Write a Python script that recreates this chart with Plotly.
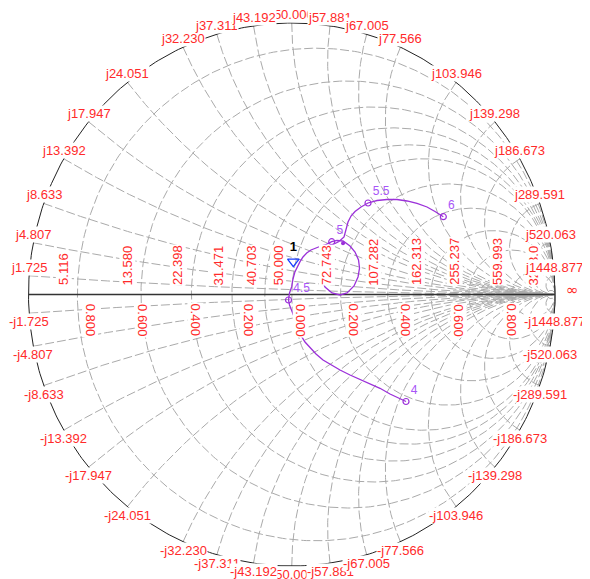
import numpy as np
import plotly.graph_objects as go

Z0 = 50.0
# Grid values (ohms)
reactance_vals = [1.725, 4.807, 8.633, 13.392, 17.947, 24.051, 32.230, 37.311, 43.192,
                  50.000, 57.881, 67.005, 77.566, 103.946, 139.298, 186.673, 289.591,
                  520.063, 1448.877]
resistance_vals = [5.116, 13.580, 22.398, 31.471, 40.703, 50.000, 72.743, 107.282,
                   162.313, 255.237, 559.993, 3233.0]
resistance_text = ["5.116", "13.580", "22.398", "31.471", "40.703", "50.000", "72.743",
                   "107.282", "162.313", "255.237", "559.993", "3233.0"]
gamma_marks = [-0.8, -0.6, -0.4, -0.2, 0.0, 0.2, 0.4, 0.6, 0.8]

# Measured reflection coefficient trace (real, imag)
trace_re = [0.4340, 0.3732, 0.3352, 0.2973, 0.2593, 0.2213, 0.1833, 0.1491, 0.1187, 0.0921,
            0.0693, 0.0503, 0.0378, 0.0256, 0.0188, 0.0085, -0.0002, -0.0085, -0.0123, -0.0085,
            -0.0002, 0.0047, 0.0123, 0.0218, 0.0313, 0.0427, 0.0568, 0.0731, 0.0948, 0.1111,
            0.1263, 0.1518, 0.1719, 0.1947, 0.2213, 0.2403, 0.2536, 0.2574, 0.2517, 0.2365,
            0.2099, 0.1833, 0.1529, 0.1263, 0.1111, 0.1073, 0.1149, 0.1301, 0.1529, 0.1795,
            0.1985, 0.2061, 0.2137, 0.2251, 0.2403, 0.2631, 0.2897, 0.3238, 0.3618, 0.3998,
            0.4378, 0.4758, 0.5138, 0.5442, 0.5757]
trace_im = [-0.3941, -0.3665, -0.3455, -0.3296, -0.3149, -0.2965, -0.2781, -0.2597, -0.2412, -0.2192,
            -0.1971, -0.1750, -0.1554, -0.1308, -0.1061, -0.0792, -0.0571, -0.0387, -0.0203, 0.0055,
            0.0287, 0.0571, 0.0840, 0.1050, 0.1208, 0.1381, 0.1529, 0.1639, 0.1738, 0.1786,
            0.1823, 0.1945, 0.1989, 0.1971, 0.1786, 0.1565, 0.1271, 0.0976, 0.0645, 0.0313,
            0.0055, -0.0018, 0.0055, 0.0276, 0.0608, 0.0976, 0.1344, 0.1639, 0.1823, 0.1952,
            0.2118, 0.2376, 0.2670, 0.2891, 0.3057, 0.3223, 0.3370, 0.3462, 0.3499, 0.3499,
            0.3444, 0.3352, 0.3223, 0.3057, 0.2866]
marker_freq = ["4", "4.5", "5", "5.5", "6"]
marker_re = [0.4340, -0.0123, 0.1518, 0.2897, 0.5757]
marker_im = [-0.3941, -0.0203, 0.1945, 0.3370, 0.2866]
cusp_re = [0.1947]
cusp_im = [0.1890]
marker1_re = [0.0059]
marker1_im = [0.1208]

GRID = "#aaaaaa"
RED = "#ff2a2a"
PURPLE = "#9b30d9"
FONT = "Liberation Sans, Arial, sans-serif"

fig = go.Figure()

# resistance circles
rx, ry = [], []
t = np.linspace(0, 2 * np.pi, 500)
for R in resistance_vals:
    r = R / Z0
    c = r / (1 + r)
    rad = 1 / (1 + r)
    rx += list(c + rad * np.cos(t)) + [None]
    ry += list(rad * np.sin(t)) + [None]
fig.add_trace(go.Scatter(x=rx, y=ry, mode="lines", hoverinfo="skip",
                         line=dict(color=GRID, width=1, dash="9px,3px")))

# reactance arcs
xx, xy = [], []
rs = np.concatenate([[0.0], np.logspace(-3, 4, 400)])
for X in reactance_vals:
    for s in (1, -1):
        z = rs + 1j * s * X / Z0
        g = (z - 1) / (z + 1)
        xx += list(g.real) + [None]
        xy += list(g.imag) + [None]
fig.add_trace(go.Scatter(x=xx, y=xy, mode="lines", hoverinfo="skip",
                         line=dict(color=GRID, width=1, dash="9px,3px")))

# outer circle and real axis
fig.add_trace(go.Scatter(x=np.cos(t), y=np.sin(t), mode="lines", hoverinfo="skip",
                         line=dict(color="#222222", width=1)))
fig.add_trace(go.Scatter(x=[-1, 1], y=[0, 0], mode="lines", hoverinfo="skip",
                         line=dict(color="#333333", width=1.6)))

# data trace
fig.add_trace(go.Scatter(x=trace_re, y=trace_im, mode="lines", hoverinfo="skip",
                         line=dict(color=PURPLE, width=1.3)))
fig.add_trace(go.Scatter(x=marker_re, y=marker_im, mode="markers+text", text=marker_freq,
                         textposition="top right", hoverinfo="skip",
                         textfont=dict(color="#a855f7", size=12, family=FONT),
                         marker=dict(symbol="circle-open", size=6, color=PURPLE, line=dict(width=1.2))))
fig.add_trace(go.Scatter(x=cusp_re, y=cusp_im, mode="markers", hoverinfo="skip",
                         marker=dict(symbol="circle", size=4, color=PURPLE)))
fig.add_trace(go.Scatter(x=marker1_re, y=marker1_im, mode="markers+text", text=["<b>1</b>"],
                         textposition="top center", hoverinfo="skip",
                         textfont=dict(color="black", size=13, family=FONT),
                         marker=dict(symbol="triangle-down-open", size=10, color="#1a3cff",
                                     line=dict(width=1.3))))

ann = []
# resistance labels
for R, txt in zip(resistance_vals, resistance_text):
    r = R / Z0
    g = (r - 1) / (r + 1)
    ann.append(dict(x=g - 0.02, y=0.03, text=txt, showarrow=False, textangle=-90,
                    xanchor="right", yanchor="bottom", bgcolor="white", borderpad=0,
                    font=dict(color=RED, size=13, family=FONT)))
# |Gamma| labels
for gm in gamma_marks:
    ann.append(dict(x=gm + 0.003, y=-0.03, text=f"{abs(gm):.3f}", showarrow=False, textangle=90,
                    xanchor="left", yanchor="top", bgcolor="white", borderpad=0,
                    font=dict(color=RED, size=13, family=FONT)))
# reactance labels: j50 first so neighbours overlap it
order = [reactance_vals.index(50.000)] + [i for i in range(len(reactance_vals)) if reactance_vals[i] != 50.000]
for i in order:
    X = reactance_vals[i]
    for s in (1, -1):
        z = 1j * s * X / Z0
        g = (z - 1) / (z + 1)
        txt = ("j" if s > 0 else "-j") + f"{X:.3f}"
        ann.append(dict(x=g.real, y=g.imag, text=txt, showarrow=False, xanchor="center",
                        yanchor="bottom" if s > 0 else "top", bgcolor="white", borderpad=0,
                        font=dict(color=RED, size=13, family=FONT)))
ann.append(dict(x=1.068, y=0.017, text="∞", showarrow=False, xanchor="center", yanchor="middle",
                font=dict(color=RED, size=15, family="DejaVu Sans")))

# page body has an 8px margin, so the figure is 8px smaller and ranges shifted
fig.update_layout(
    width=582, height=571, margin=dict(l=0, r=0, t=0, b=0),
    paper_bgcolor="white", plot_bgcolor="white", showlegend=False,
    xaxis=dict(range=[-1.0779, 1.1329], visible=False, fixedrange=True),
    yaxis=dict(range=[-1.0479, 1.0552], visible=False, fixedrange=True),
    annotations=ann,
)
fig.write_html("out.html")
